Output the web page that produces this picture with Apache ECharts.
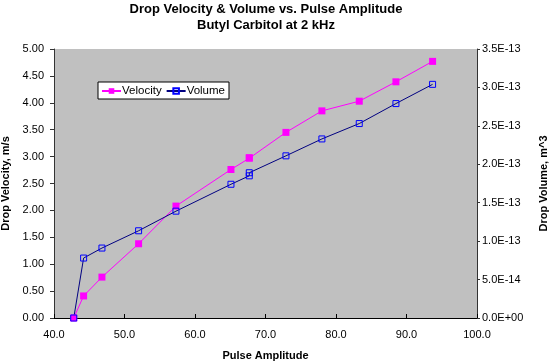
<!DOCTYPE html>
<html><head><meta charset="utf-8">
<script src="https://cdn.jsdelivr.net/npm/echarts@6/dist/echarts.min.js"></script>
<style>html,body{margin:0;padding:0;background:#fff}#c{width:549px;height:364px}</style>
</head><body><div id="c"></div>
<script>
var pulseAmplitude = [42.8, 44.2, 46.8, 52.0, 57.3, 65.1, 67.7, 67.7, 72.9, 78.0, 83.3, 88.5, 93.7];
var dropVelocity = [0, 0.41, 0.76, 1.38, 2.08, 2.76, 2.97, 2.98, 3.45, 3.85, 4.03, 4.39, 4.77];
var dropVolume = [0, 0.78e-13, 0.91e-13, 1.135e-13, 1.39e-13, 1.74e-13, 1.85e-13, 1.89e-13, 2.11e-13, 2.33e-13, 2.53e-13, 2.79e-13, 3.04e-13];
var titleLines = ['Drop Velocity & Volume vs. Pulse Amplitude', 'Butyl Carbitol at 2 kHz'];

function pairs(xs, ys){ return xs.map(function(x,i){ return [x, ys[i]]; }); }
function sci(v){
  if (v === 0) return '0.0E+00';
  var s = v.toExponential(1).split('e');
  var e = parseInt(s[1],10);
  var es = (e<0?'-':'+') + (Math.abs(e)<10?'0':'') + Math.abs(e);
  return s[0] + 'E' + es;
}
var font = 'Arial, "Liberation Sans", sans-serif';
var chart = echarts.init(document.getElementById('c'), null, {renderer:'canvas'});
chart.setOption({
  animation: false,
  backgroundColor: '#fff',
  textStyle: {fontFamily: font},
  title: {
    text: titleLines.join('\n'),
    left: 261, top: -4, textAlign: 'center',
    textStyle: {fontSize: 13, fontWeight: 'bold', color: '#000', fontFamily: font, lineHeight: 16}
  },
  legend: {
    left: 98, top: 82,
    backgroundColor: '#fff', borderColor: '#000', borderWidth: 1,
    padding: [3, 4, 2, 3], itemGap: 4, itemWidth: 19, itemHeight: 7,
    textStyle: {fontSize: 11.5, color: '#000', fontFamily: font, padding: [0,0,0,-4]},
    data: ['Velocity', 'Volume']
  },
  grid: {left: 54, right: 72, top: 49, bottom: 46, show: true, backgroundColor: '#c0c0c0', borderWidth: 0, containLabel: false, outerBoundsMode: 'none'},
  xAxis: {
    type: 'value', min: 40, max: 100, interval: 10,
    name: 'Pulse Amplitude', nameLocation: 'middle', nameGap: 32,
    nameTextStyle: {fontSize: 11, fontWeight: 'bold', color: '#000', fontFamily: font},
    axisLine: {show: true, onZero: false, lineStyle: {color: '#000', width: 1}},
    axisTick: {show: true, inside: true, length: 4, lineStyle: {color: '#000'}},
    axisLabel: {fontSize: 11, color: '#000', margin: 11, formatter: function(v){ return v.toFixed(1); }},
    splitLine: {show: false}
  },
  yAxis: [{
    type: 'value', min: 0, max: 5, interval: 0.5, position: 'left',
    name: 'Drop Velocity, m/s', nameLocation: 'middle', nameGap: 39, nameRotate: 90,
    nameTextStyle: {fontSize: 11, fontWeight: 'bold', color: '#000', fontFamily: font},
    axisLine: {show: true, lineStyle: {color: '#333', width: 1}},
    axisTick: {show: true, length: 4, lineStyle: {color: '#333'}},
    axisLabel: {fontSize: 11, color: '#000', margin: 10, formatter: function(v){ return v.toFixed(2); }},
    splitLine: {show: false}
  }, {
    type: 'value', min: 0, max: 3.5e-13, interval: 5e-14, position: 'right',
    name: 'Drop Volume, m^3', nameLocation: 'middle', nameGap: 61, nameRotate: 90,
    nameTextStyle: {fontSize: 11, fontWeight: 'bold', color: '#000', fontFamily: font},
    axisLine: {show: true, lineStyle: {color: '#333', width: 1}},
    axisTick: {show: true, length: 3, lineStyle: {color: '#333'}},
    axisLabel: {fontSize: 11, color: '#000', margin: 5, formatter: sci},
    splitLine: {show: false}
  }],
  series: [{
    name: 'Velocity', type: 'line', yAxisIndex: 0,
    data: pairs(pulseAmplitude, dropVelocity),
    symbol: 'rect', symbolSize: 7,
    lineStyle: {color: '#ff00ff', width: 1},
    itemStyle: {color: '#ff00ff', borderWidth: 0}
  }, {
    name: 'Volume', type: 'line', yAxisIndex: 1,
    data: pairs(pulseAmplitude, dropVolume),
    symbol: 'rect', symbolSize: 6,
    lineStyle: {color: '#000080', width: 1},
    itemStyle: {color: 'rgba(0,0,0,0)', borderColor: '#0000ff', borderWidth: 1}
  }]
});
</script></body></html>
